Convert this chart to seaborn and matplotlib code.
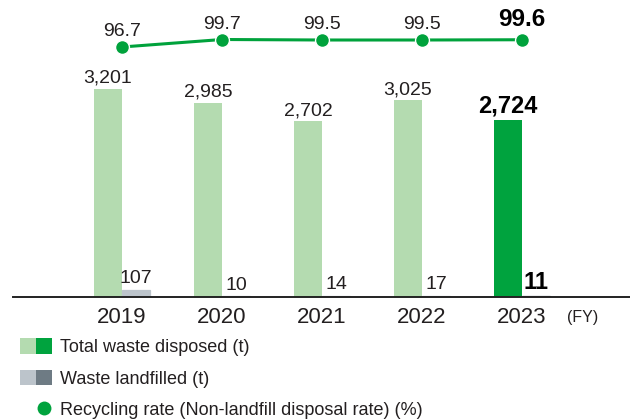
import numpy as np
import pandas as pd
import matplotlib
matplotlib.use("Agg")
import matplotlib.pyplot as plt
import seaborn as sns
from matplotlib.patches import Patch
from matplotlib.lines import Line2D
from matplotlib.legend_handler import HandlerTuple

# ---- data ----
years = ["2019", "2020", "2021", "2022", "2023"]
total_waste = [3201, 2985, 2702, 3025, 2724]        # t
landfilled = [107, 10, 14, 17, 11]                  # t
recycling_rate = [96.7, 99.7, 99.5, 99.5, 99.6]     # %

series_total = "Total waste disposed (t)"
series_landfill = "Waste landfilled (t)"
series_rate = "Recycling rate (Non-landfill disposal rate) (%)"

# ---- style ----
sns.set_theme(style="white")
plt.rcParams["font.family"] = ["Liberation Sans", "DejaVu Sans"]
TXT = "#231f20"
GREEN_L, GREEN_D = "#b4dbb0", "#00a33e"
GRAY_L, GRAY_D = "#bcc4cb", "#6e7b84"
LINE_G = "#00a23c"

df = pd.DataFrame({
    "year": years * 2,
    "series": [series_total] * len(years) + [series_landfill] * len(years),
    "value": total_waste + landfilled,
})

fig = plt.figure(figsize=(6.3, 4.2), dpi=100)
ax = fig.add_axes([13 / 630, 123 / 420, 617 / 630, 297 / 420])

sns.barplot(data=df, x="year", y="value", hue="series",
            palette=[GREEN_L, GRAY_L], width=0.56, saturation=1,
            legend=False, ax=ax, errorbar=None)

ax.set_ylim(0, 4570)
ax.set_xlim(-1.09, 5.08)

# highlight latest year
bars_total, bars_land = ax.containers[0], ax.containers[1]
bars_total[-1].set_facecolor(GREEN_D)
bars_land[-1].set_facecolor(GRAY_D)
for b in bars_total:
    b.set_edgecolor("none")
for b in bars_land:
    # thin outline in the fill colour keeps the tiny bars visible
    b.set_edgecolor(b.get_facecolor())
    b.set_linewidth(0.9)

last = len(years) - 1
lbl_t = ax.bar_label(bars_total, labels=[f"{v:,}" for v in total_waste],
                     padding=1.5, fontsize=14, color=TXT)
lbl_l = ax.bar_label(bars_land, labels=[f"{v:,}" for v in landfilled],
                     padding=2, fontsize=14, color=TXT)
for t in (lbl_t[last], lbl_l[last]):
    t.set_fontweight("bold")
    t.set_fontsize(17)
    t.set_color("black")

# axis styling
for s in ["top", "right", "left"]:
    ax.spines[s].set_visible(False)
ax.spines["bottom"].set_color("#222222")
ax.spines["bottom"].set_linewidth(1.4)
ax.set_yticks([])
ax.set_xlabel("")
ax.set_ylabel("")
ax.tick_params(axis="x", length=0, pad=7, labelsize=16, labelcolor=TXT)
ax.annotate("(FY)", xy=(4.61, 0), xycoords=("data", "axes fraction"),
            xytext=(0, -15), textcoords="offset points",
            ha="center", va="center", fontsize=11.5, color=TXT)

# recycling rate line on its own scale
ax2 = ax.twinx()
ax2.set_ylim(-3.3, 115.5)
sns.lineplot(x=np.arange(len(years)), y=recycling_rate, ax=ax2,
             color=LINE_G, linewidth=2.2, marker="o", markersize=10,
             markeredgecolor="white", markeredgewidth=1.0)
ax2.set_xlim(ax.get_xlim())
ax2.set_yticks([])
for s in ax2.spines.values():
    s.set_visible(False)
for i, r in enumerate(recycling_rate):
    bold = i == last
    ax2.annotate(f"{r:.1f}", xy=(i, r), xytext=(0, 6.5 if bold else 5),
                 textcoords="offset points", ha="center", va="bottom",
                 fontsize=17.5 if bold else 14,
                 fontweight="bold" if bold else "normal",
                 color="black" if bold else TXT)

# legend
blank = Line2D([], [], linestyle="none", marker="none")
handles = [
    (Patch(facecolor=GREEN_L, edgecolor="none"),
     Patch(facecolor=GREEN_D, edgecolor="none")),
    (Patch(facecolor=GRAY_L, edgecolor="none"),
     Patch(facecolor=GRAY_D, edgecolor="none")),
    (blank, Line2D([], [], linestyle="none", marker="o", markersize=10,
                   markeredgewidth=0, color=GREEN_D)),
]
fig.legend(handles, [series_total, series_landfill, series_rate],
           handler_map={tuple: HandlerTuple(ndivide=None, pad=0)},
           loc="upper left", bbox_to_anchor=(20 / 630, 1 - 338 / 420),
           frameon=False, fontsize=13, labelcolor=TXT,
           handlelength=1.78, handleheight=0.95, handletextpad=0.45,
           labelspacing=0.75, borderpad=0, borderaxespad=0)

fig.savefig("out.png", dpi=100)
